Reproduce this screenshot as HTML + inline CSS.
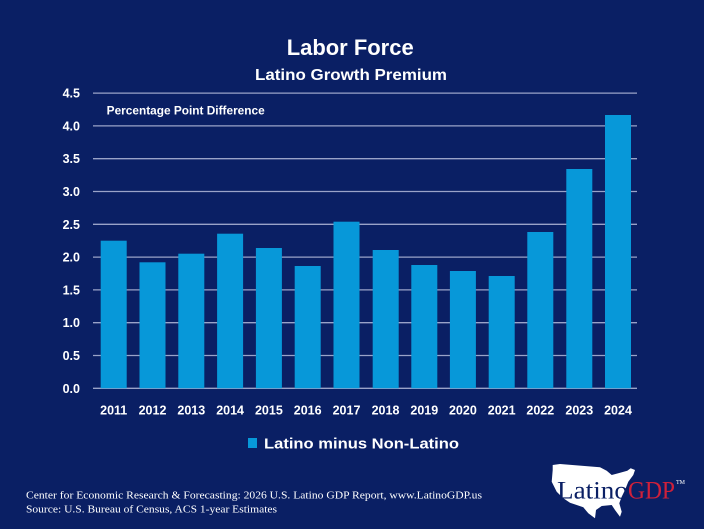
<!DOCTYPE html>
<html><head><meta charset="utf-8"><style>
html,body{margin:0;padding:0;background:#0a1f64;}
svg{display:block;}
text{font-family:"Liberation Sans",sans-serif;font-weight:bold;fill:#fff;}
.s{font-family:"Liberation Serif",serif;font-weight:normal;}
</style></head><body>
<svg width="704" height="529" viewBox="0 0 704 529" xmlns="http://www.w3.org/2000/svg">
<rect width="704" height="529" fill="#0a1f64"/>
<text x="286.7" y="55" font-size="22" textLength="127" lengthAdjust="spacingAndGlyphs">Labor Force</text>
<text x="255" y="80" font-size="16" textLength="192" lengthAdjust="spacingAndGlyphs">Latino Growth Premium</text>
<g stroke="#9aa3c8" stroke-width="1.3">
<line x1="93" x2="637" y1="93.1" y2="93.1"/>
<line x1="93" x2="637" y1="125.9" y2="125.9"/>
<line x1="93" x2="637" y1="158.7" y2="158.7"/>
<line x1="93" x2="637" y1="191.5" y2="191.5"/>
<line x1="93" x2="637" y1="224.3" y2="224.3"/>
<line x1="93" x2="637" y1="257.1" y2="257.1"/>
<line x1="93" x2="637" y1="289.9" y2="289.9"/>
<line x1="93" x2="637" y1="322.7" y2="322.7"/>
<line x1="93" x2="637" y1="355.5" y2="355.5"/>
<line x1="93" x2="637" y1="388.3" y2="388.3"/>
</g>
<text x="106.7" y="114.3" font-size="11.5" textLength="158" lengthAdjust="spacingAndGlyphs">Percentage Point Difference</text>
<g font-size="12.5" text-anchor="end">
<text x="80" y="97.6">4.5</text>
<text x="80" y="130.4">4.0</text>
<text x="80" y="163.2">3.5</text>
<text x="80" y="196">3.0</text>
<text x="80" y="228.8">2.5</text>
<text x="80" y="261.6">2.0</text>
<text x="80" y="294.4">1.5</text>
<text x="80" y="327.2">1.0</text>
<text x="80" y="360">0.5</text>
<text x="80" y="392.8">0.0</text>
</g>
<g fill="#0798d9">
<rect x="100.7" y="240.7" width="26" height="147.6"/>
<rect x="139.5" y="262.3" width="26" height="126"/>
<rect x="178.3" y="253.7" width="26" height="134.6"/>
<rect x="217.1" y="233.7" width="26" height="154.6"/>
<rect x="255.9" y="248" width="26" height="140.3"/>
<rect x="294.7" y="266" width="26" height="122.3"/>
<rect x="333.5" y="221.7" width="26" height="166.6"/>
<rect x="372.7" y="250" width="26" height="138.3"/>
<rect x="411.3" y="265" width="26" height="123.3"/>
<rect x="449.9" y="271" width="26" height="117.3"/>
<rect x="488.7" y="276" width="26" height="112.3"/>
<rect x="527.3" y="232" width="26" height="156.3"/>
<rect x="566.3" y="169" width="26" height="219.3"/>
<rect x="605" y="115" width="26" height="273.3"/>
</g>
<g font-size="12.5" text-anchor="middle">
<text x="113.7" y="414.5">2011</text>
<text x="152.5" y="414.5">2012</text>
<text x="191.3" y="414.5">2013</text>
<text x="230.1" y="414.5">2014</text>
<text x="268.9" y="414.5">2015</text>
<text x="307.7" y="414.5">2016</text>
<text x="346.5" y="414.5">2017</text>
<text x="385.5" y="414.5">2018</text>
<text x="424.3" y="414.5">2019</text>
<text x="462.9" y="414.5">2020</text>
<text x="501.7" y="414.5">2021</text>
<text x="540.3" y="414.5">2022</text>
<text x="579.3" y="414.5">2023</text>
<text x="618" y="414.5">2024</text>
</g>
<rect x="248" y="438" width="9" height="10" fill="#0798d9"/>
<text x="264" y="448.3" font-size="15" textLength="195" lengthAdjust="spacingAndGlyphs">Latino minus Non-Latino</text>
<text class="s" x="26" y="498.5" font-size="11" textLength="456" lengthAdjust="spacingAndGlyphs">Center for Economic Research &amp; Forecasting: 2026 U.S. Latino GDP Report, www.LatinoGDP.us</text>
<text class="s" x="26" y="512.5" font-size="11" textLength="251" lengthAdjust="spacingAndGlyphs">Source: U.S. Bureau of Census, ACS 1-year Estimates</text>
<path fill="#ffffff" d="M552.7,465 L560,464 L600,467.3 L606.7,470.7 L611.7,475 L618.3,473.3 L627.3,470.7 L630.7,468.3 L635,470 L633.3,475 L628.3,481.7 L625,490 L621.7,496.7 L619.3,503.3 L621.7,511.7 L620,516.7 L615,510 L611.7,505 L601.7,506 L596,510 L595,518.3 L588.3,513.3 L583.3,507.3 L576.7,505 L570,502.7 L563.3,498.3 L556.7,491.7 L551.7,481.7 L552.7,470 Z"/>
<text class="s" x="557" y="498.3" font-size="25" textLength="71" lengthAdjust="spacingAndGlyphs" style="fill:#0a1f64">Latino</text>
<text class="s" x="628" y="498.3" font-size="25" textLength="47" lengthAdjust="spacingAndGlyphs" style="fill:#d0203a">GDP</text>
<text class="s" x="676" y="484" font-size="6" style="fill:#ffffff">TM</text>
</svg>
</body></html>
